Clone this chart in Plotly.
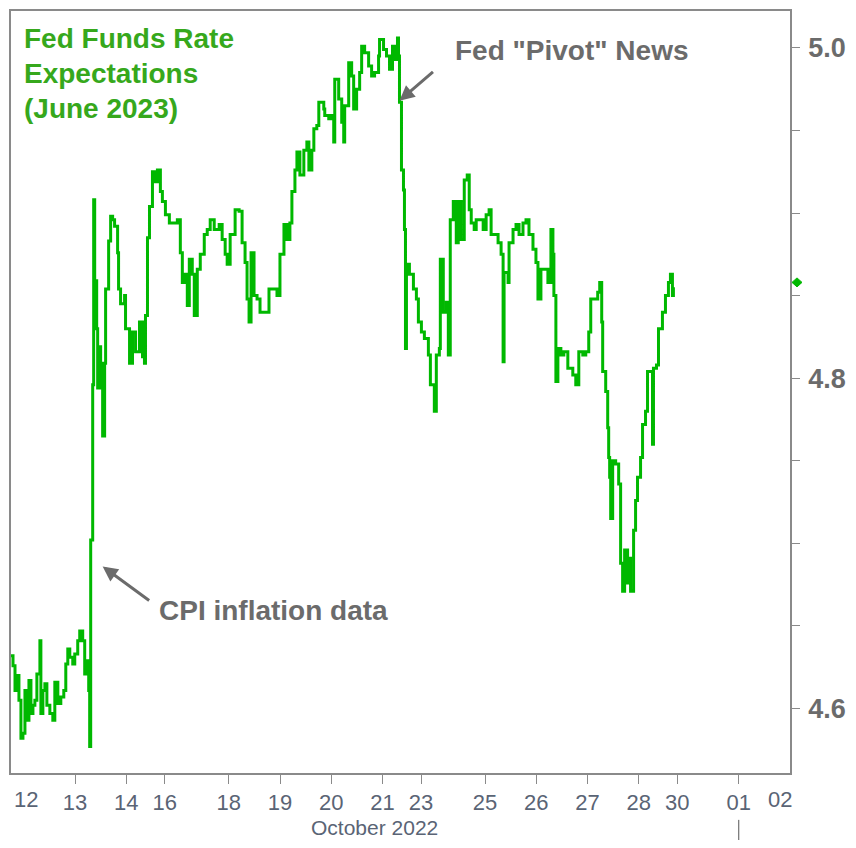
import plotly.graph_objects as go

# time position (trading-day units along the axis) and June-2023 implied rate
times = [
    0.000, 0.039, 0.078, 0.117, 0.155, 0.194, 0.233, 0.272, 0.311, 0.350,
    0.389, 0.428, 0.466, 0.505, 0.564, 0.583, 0.622, 0.661, 0.700, 0.758,
    0.816, 0.855, 0.914, 0.972, 1.030, 1.069, 1.108, 1.147, 1.205, 1.244,
    1.302, 1.341, 1.399, 1.438, 1.477, 1.516, 1.535, 1.555, 1.574, 1.594,
    1.613, 1.633, 1.672, 1.691, 1.730, 1.749, 1.788, 1.827, 1.846, 1.905,
    1.944, 1.983, 2.021, 2.080, 2.099, 2.138, 2.216, 2.235, 2.313, 2.371,
    2.430, 2.507, 2.566, 2.604, 2.624, 2.663, 2.702, 2.760, 2.799, 2.857,
    2.915, 2.954, 3.013, 3.090, 3.149, 3.246, 3.304, 3.343, 3.401, 3.440,
    3.479, 3.537, 3.576, 3.635, 3.693, 3.771, 3.829, 3.887, 3.965, 4.062,
    4.120, 4.179, 4.218, 4.276, 4.373, 4.451, 4.509, 4.567, 4.606, 4.645,
    4.684, 4.742, 4.801, 4.859, 4.956, 5.034, 5.131, 5.190, 5.248, 5.326,
    5.384, 5.442, 5.481, 5.540, 5.579, 5.637, 5.714, 5.773, 5.812, 5.870,
    5.909, 5.967, 6.006, 6.103, 6.122, 6.200, 6.258, 6.297, 6.317, 6.394,
    6.453, 6.492, 6.511, 6.589, 6.647, 6.686, 6.744, 6.803, 6.842, 6.900,
    6.978, 7.036, 7.094, 7.172, 7.191, 7.269, 7.327, 7.386, 7.444, 7.483,
    7.541, 7.561, 7.580, 7.619, 7.658, 7.677, 7.697, 7.716, 7.774, 7.852,
    7.910, 7.949, 8.008, 8.066, 8.144, 8.183, 8.260, 8.299, 8.358, 8.377,
    8.435, 8.494, 8.533, 8.571, 8.630, 8.688, 8.727, 8.785, 8.844, 8.902,
    8.941, 8.980, 9.038, 9.077, 9.135, 9.213, 9.271, 9.329, 9.368, 9.427,
    9.504, 9.563, 9.602, 9.621, 9.699, 9.718, 9.796, 9.854, 9.913, 9.990,
    10.049, 10.107, 10.185, 10.243, 10.282, 10.340, 10.399, 10.476, 10.535, 10.574,
    10.593, 10.632, 10.671, 10.729, 10.787, 10.865, 10.962, 11.020, 11.079, 11.157,
    11.215, 11.273, 11.312, 11.370, 11.448, 11.487, 11.526, 11.545, 11.604, 11.643,
    11.662, 11.681, 11.701, 11.740, 11.798, 11.857, 11.895, 11.934, 11.973, 12.031,
    12.051, 12.089, 12.148, 12.187, 12.225, 12.284, 12.323, 12.381, 12.420, 12.478,
    12.517, 12.536, 12.595, 12.634, 12.711, 12.770, 12.828, 12.867, 12.906, 12.925,
]
rates = [
    4.632, 4.626, 4.611, 4.620, 4.605, 4.582, 4.585, 4.611, 4.593, 4.617,
    4.597, 4.602, 4.605, 4.621, 4.641, 4.597, 4.611, 4.615, 4.602, 4.597,
    4.593, 4.616, 4.603, 4.607, 4.611, 4.627, 4.636, 4.631, 4.627, 4.633,
    4.641, 4.647, 4.641, 4.621, 4.629, 4.611, 4.577, 4.702, 4.702, 4.796,
    4.908, 4.859, 4.830, 4.794, 4.819, 4.809, 4.765, 4.809, 4.854, 4.883,
    4.898, 4.896, 4.892, 4.876, 4.854, 4.845, 4.850, 4.830, 4.809, 4.828,
    4.816, 4.834, 4.813, 4.809, 4.838, 4.885, 4.904, 4.925, 4.919, 4.926,
    4.913, 4.907, 4.899, 4.894, 4.894, 4.896, 4.876, 4.858, 4.863, 4.844,
    4.872, 4.863, 4.838, 4.866, 4.875, 4.887, 4.890, 4.896, 4.890, 4.893,
    4.884, 4.875, 4.869, 4.887, 4.902, 4.901, 4.882, 4.870, 4.848, 4.834,
    4.876, 4.850, 4.848, 4.840, 4.840, 4.854, 4.854, 4.850, 4.875, 4.893,
    4.884, 4.894, 4.913, 4.926, 4.937, 4.923, 4.938, 4.943, 4.926, 4.938,
    4.951, 4.953, 4.967, 4.963, 4.959, 4.957, 4.959, 4.943, 4.981, 4.969,
    4.955, 4.943, 4.965, 4.991, 4.983, 4.963, 4.975, 4.985, 5.001, 4.997,
    4.989, 4.983, 4.985, 4.995, 5.005, 4.999, 4.995, 4.987, 5.001, 4.993,
    5.006, 4.995, 4.967, 4.926, 4.914, 4.890, 4.818, 4.869, 4.863, 4.854,
    4.848, 4.834, 4.828, 4.824, 4.814, 4.796, 4.780, 4.814, 4.818, 4.872,
    4.840, 4.846, 4.814, 4.896, 4.907, 4.882, 4.907, 4.884, 4.920, 4.923,
    4.902, 4.894, 4.890, 4.896, 4.896, 4.890, 4.899, 4.902, 4.887, 4.887,
    4.882, 4.875, 4.810, 4.864, 4.858, 4.882, 4.890, 4.893, 4.887, 4.894,
    4.896, 4.887, 4.878, 4.870, 4.848, 4.866, 4.866, 4.858, 4.890, 4.875,
    4.850, 4.798, 4.818, 4.814, 4.816, 4.806, 4.802, 4.796, 4.816, 4.814,
    4.816, 4.828, 4.848, 4.848, 4.852, 4.858, 4.834, 4.804, 4.792, 4.770,
    4.752, 4.740, 4.715, 4.750, 4.748, 4.736, 4.688, 4.671, 4.696, 4.676,
    4.691, 4.671, 4.708, 4.726, 4.740, 4.752, 4.772, 4.780, 4.804, 4.804,
    4.760, 4.806, 4.808, 4.830, 4.840, 4.850, 4.858, 4.863, 4.850, 4.855,
]

# x-axis day labels (positions in the same trading-day units)
tick_pos = [1.25, 2.25, 3.0, 4.25, 5.25, 6.25, 7.25, 8.0, 9.25, 10.25, 11.25, 12.25, 13.0, 14.2]
tick_text = ["13", "14", "16", "18", "19", "20", "21", "23", "25", "26", "27", "28", "30", "01"]
edge_pos = [0.3, 15.0]
edge_text = ["12", "02"]
month_label = "October 2022"
month_break = 14.2

y_ticks = [4.6, 4.8, 5.0]
y_range = [4.561, 5.0223]
x_range = [0, 15.2]
last_marker_value = 4.858

GREEN = "#00b800"
TITLE_GREEN = "#36a81c"
GRAY = "#6b6b6b"
AXIS = "#8a8a8a"
XLAB = "#5a6475"
SANS = "Liberation Sans, Arial, sans-serif"

fig = go.Figure()
fig.add_trace(go.Scatter(
    x=times, y=rates, mode="lines", line=dict(color=GREEN, width=3, shape="hv"),
    showlegend=False, hoverinfo="skip"))

fig.update_layout(
    width=848, height=832,
    margin=dict(l=1, r=66, t=1, b=67),
    paper_bgcolor="white", plot_bgcolor="white",
    xaxis=dict(
        range=x_range, tickmode="array", tickvals=tick_pos, ticktext=tick_text,
        ticks="outside", ticklen=9, tickcolor=AXIS, tickwidth=1,
        showline=True, mirror=True, linecolor=AXIS, linewidth=1.5,
        showgrid=False, zeroline=False,
        tickfont=dict(family=SANS, size=22, color=XLAB),
    ),
    yaxis=dict(
        range=y_range, side="right", tickmode="array", tickvals=y_ticks,
        ticktext=[f"{v:.1f}" for v in y_ticks],
        ticks="outside", ticklen=8, tickcolor=AXIS, tickwidth=1.2,
        ticklabelstandoff=3,
        minor=dict(dtick=0.05, tick0=4.6, ticks="outside", ticklen=8, tickcolor=AXIS, tickwidth=1.2),
        showline=True, mirror=True, linecolor=AXIS, linewidth=1.5,
        showgrid=False, zeroline=False,
        tickfont=dict(family=SANS, size=27, color=GRAY, weight="bold"),
    ),
)

annotations = []
for p, t in zip(edge_pos, edge_text):
    annotations.append(dict(x=p, y=-0.0353, xref="x", yref="paper", text=t, showarrow=False,
                            xanchor="center", yanchor="middle",
                            font=dict(family=SANS, size=22, color=XLAB)))
annotations.append(dict(x=0.466, y=-0.071, xref="paper", yref="paper", text=month_label,
                        showarrow=False, xanchor="center", yanchor="middle",
                        font=dict(family=SANS, size=21, color=XLAB)))

title_lines = ["Fed Funds Rate", "Expectations", "(June 2023)"]
title_y = [0.9645, 0.9185, 0.8725]
for line, yy in zip(title_lines, title_y):
    annotations.append(dict(x=0.0135, y=yy, xref="paper", yref="paper", text=line,
                            showarrow=False, xanchor="left", yanchor="middle",
                            font=dict(family=SANS, size=28, color=TITLE_GREEN, weight="bold")))

# event annotations
annotations.append(dict(x=0.567, y=0.9485, xref="paper", yref="paper", text='Fed "Pivot" News',
                        showarrow=False, xanchor="left", yanchor="middle",
                        font=dict(family=SANS, size=28, color=GRAY, weight="bold")))
annotations.append(dict(x=7.58, y=4.968, xref="x", yref="y", text="", showarrow=True,
                        ax=35, ay=-30, arrowhead=2, arrowsize=1, arrowwidth=3, arrowcolor=GRAY))
annotations.append(dict(x=0.188, y=0.213, xref="paper", yref="paper", text="CPI inflation data",
                        showarrow=False, xanchor="left", yanchor="middle",
                        font=dict(family=SANS, size=28, color=GRAY, weight="bold")))
annotations.append(dict(x=1.788, y=4.686, xref="x", yref="y", text="", showarrow=True,
                        ax=48, ay=35, arrowhead=2, arrowsize=1, arrowwidth=3, arrowcolor=GRAY))
fig.update_layout(annotations=annotations)

# month separator below the axis
fig.add_shape(type="line", xref="x", yref="paper", x0=month_break, x1=month_break,
              y0=-0.0615, y1=-0.09, line=dict(color="#555555", width=1))

# last-value diamond marker on the right axis
fig.add_shape(type="path", xref="paper", yref="y", xsizemode="pixel", ysizemode="pixel",
              xanchor=1.009, yanchor=last_marker_value,
              path="M -5 0 L 0 4.5 L 5 0 L 0 -4.5 Z",
              fillcolor=GREEN, line=dict(color=GREEN, width=1))

fig.write_html("out.html")
